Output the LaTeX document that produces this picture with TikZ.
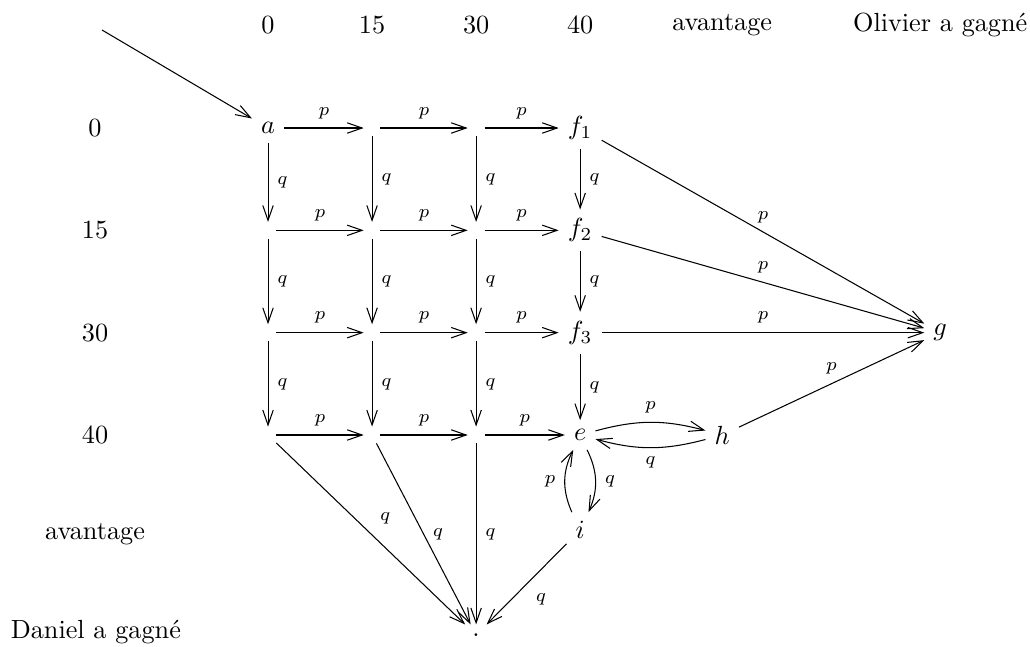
\documentclass[tikz,border=0pt]{standalone}
\usepackage{tikz}
\usetikzlibrary{arrows.meta, positioning}

\begin{document}
\begin{tikzpicture}[
    node distance=1.371cm and 1.394cm, on grid,
    state/.style={inner sep=3.3pt},
    pt/.style={inner sep=3pt, minimum size=0pt},
    lab/.style={font=\scriptsize},
    arr/.style={-{Straight Barb[length=2mm, width=1.4mm]}},
]
\useasboundingbox (0,0) rectangle (13.80,-8.656);

% States
\node[state] (a) at (3.591,-1.715) {$a$};
\node[pt, right=of a] (s01) {};
\node[pt, right=of s01] (s02) {};
\node[state, right=of s02] (f1) {$f_1$};

\node[pt, below=of a] (s10) {};
\node[pt, right=of s10] (s11) {};
\node[pt, right=of s11] (s12) {};
\node[state, right=of s12] (f2) {$f_2$};

\node[pt, below=of s10] (s20) {};
\node[pt, right=of s20] (s21) {};
\node[pt, right=of s21] (s22) {};
\node[state, right=of s22] (f3) {$f_3$};

\node[pt, below=of s20] (s30) {};
\node[pt, right=of s30] (s31) {};
\node[pt, right=of s31] (s32) {};
\node[state, right=of s32] (e) {$e$};

\node[state, right=1.903cm of e] (h) {$h$};
\node[state, right=4.824cm of f3] (g) {$g$};
\node[state, below=1.273cm of e] (i) {$i$};
\node[state, below=2.68cm of s32] (z) {.};
\coordinate (start) at (1.367,-0.402);

% Scores
\node[above=1.38cm of a] (c0) {0};
\node[above=1.38cm of s01] (c15) {15};
\node[above=1.38cm of s02] (c30) {30};
\node[above=1.38cm of f1] (c40) {40};
\node[above=5.494cm of h] (cadv) {avantage};
\node[above=4.127cm of g] (cwin) {Olivier a gagn\'e};

\node[left=2.318cm of a] (r0) {0};
\node[left=2.318cm of s10] (r15) {15};
\node[left=2.318cm of s20] (r30) {30};
\node[left=2.318cm of s30] (r40) {40};
\node (radv) at (1.273,-7.15) {avantage};
\node[anchor=west] (rwin) at (0.02,-8.469) {Daniel a gagn\'e};

% Arrows
\draw[arr] (start) -- (a);

\draw[arr] (a) -- node[lab, above] {$p$} (s01);
\draw[arr] (s01) -- node[lab, above] {$p$} (s02);
\draw[arr] (s02) -- node[lab, above] {$p$} (f1);
\draw[arr] (s10) -- node[lab, above] {$p$} (s11);
\draw[arr] (s11) -- node[lab, above] {$p$} (s12);
\draw[arr] (s12) -- node[lab, above] {$p$} (f2);
\draw[arr] (s20) -- node[lab, above] {$p$} (s21);
\draw[arr] (s21) -- node[lab, above] {$p$} (s22);
\draw[arr] (s22) -- node[lab, above] {$p$} (f3);
\draw[arr] (s30) -- node[lab, above] {$p$} (s31);
\draw[arr] (s31) -- node[lab, above] {$p$} (s32);
\draw[arr] (s32) -- node[lab, above] {$p$} (e);

\draw[arr] (a) -- node[lab, right] {$q$} (s10);
\draw[arr] (s01) -- node[lab, right] {$q$} (s11);
\draw[arr] (s02) -- node[lab, right] {$q$} (s12);
\draw[arr] (f1) -- node[lab, right] {$q$} (f2);
\draw[arr] (s10) -- node[lab, right] {$q$} (s20);
\draw[arr] (s11) -- node[lab, right] {$q$} (s21);
\draw[arr] (s12) -- node[lab, right] {$q$} (s22);
\draw[arr] (f2) -- node[lab, right] {$q$} (f3);
\draw[arr] (s20) -- node[lab, right] {$q$} (s30);
\draw[arr] (s21) -- node[lab, right] {$q$} (s31);
\draw[arr] (s22) -- node[lab, right] {$q$} (s32);
\draw[arr] (f3) -- node[lab, right] {$q$} (e);

\draw[arr] (f1) -- node[lab, above] {$p$} (g);
\draw[arr] (f2) -- node[lab, above] {$p$} (g);
\draw[arr] (f3) -- node[lab, above] {$p$} (g);
\draw[arr] (h) -- node[lab, above] {$p$} (g);

\draw[arr] (e) to[bend left=15] node[lab, above] {$p$} (h);
\draw[arr] (h) to[bend left=15] node[lab, below] {$q$} (e);
\draw[arr] (e) to[bend left=25] node[lab, right] {$q$} (i);
\draw[arr] (i) to[bend left=25] node[lab, left] {$p$} (e);

\draw[arr] (s30) -- node[lab, above right] {$q$} (z);
\draw[arr] (s31) -- node[lab, right] {$q$} (z);
\draw[arr] (s32) -- node[lab, right] {$q$} (z);
\draw[arr] (i) -- node[lab, below right] {$q$} (z);

\end{tikzpicture}
\end{document}
